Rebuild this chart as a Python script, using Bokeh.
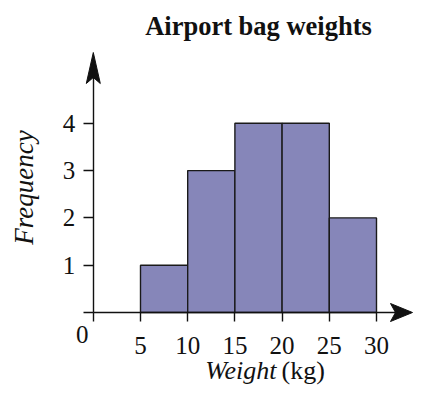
from bokeh.plotting import figure
from bokeh.models import Range1d, FixedTicker, ColumnDataSource
from bokeh.core.properties import value
from bokeh.embed import file_html
from bokeh.resources import INLINE
import math

# ---- data ----
bin_left = [5, 10, 15, 20, 25]
bin_right = [10, 15, 20, 25, 30]
frequency = [1, 3, 4, 4, 2]
x_ticks = [0, 5, 10, 15, 20, 25, 30]
y_ticks = [0, 1, 2, 3, 4]
title_text = "Airport bag weights"
y_label = "Frequency"
x_label_italic = "Weight"
x_label_unit = "(kg)"
origin_label = "0"

# ---- layout (pixels) ----
W, H = 413, 387
X0_PX, SX = 92.8, 9.44     # origin x (px), px per x unit
Y0_PX, SY = 312.0, 47.3    # origin y (px from top), px per y unit

def fx(px):
    return (px - X0_PX) / SX

def fy(py):
    return (Y0_PX - py) / SY

p = figure(width=W, height=H, output_backend="svg", toolbar_location=None,
           x_range=Range1d(fx(0), fx(W)),
           y_range=Range1d(fy(H), fy(0)),
           min_border=0, min_border_left=0, min_border_right=0,
           min_border_top=0, min_border_bottom=0)
p.title.visible = False
p.outline_line_color = None
p.grid.visible = False
p.background_fill_color = "white"
p.border_fill_color = "white"

FONT = "Liberation Serif"
INK = "#111111"

# bars
src = ColumnDataSource(dict(left=bin_left, right=bin_right, top=frequency,
                            bottom=[0] * len(frequency)))
p.quad(left="left", right="right", top="top", bottom="bottom", source=src,
       fill_color="#8686b9", line_color="#1a1a1a", line_width=1.4)

# axes
xa = p.xaxis[0]
xa.fixed_location = 0
xa.ticker = FixedTicker(ticks=x_ticks)
xa.bounds = (0, fx(397))
xa.major_label_overrides = {0: ""}
xa.major_tick_in = 0
xa.major_tick_out = 9
xa.minor_tick_line_color = None
xa.axis_line_width = 1.4
xa.major_tick_line_width = 1.4
xa.axis_line_color = INK
xa.major_tick_line_color = INK
xa.major_label_text_font = FONT
xa.major_label_text_font_size = "25px"
xa.major_label_text_color = INK
xa.major_label_standoff = 15

ya = p.yaxis[0]
ya.fixed_location = 0
ya.ticker = FixedTicker(ticks=y_ticks)
ya.bounds = (0, fy(70))
ya.major_label_overrides = {0: ""}
ya.major_tick_in = 0
ya.major_tick_out = 10
ya.minor_tick_line_color = None
ya.axis_line_width = 1.4
ya.major_tick_line_width = 1.4
ya.axis_line_color = INK
ya.major_tick_line_color = INK
ya.major_label_text_font = FONT
ya.major_label_text_font_size = "25px"
ya.major_label_text_color = INK
ya.major_label_standoff = 8
ya.major_label_orientation = "horizontal"

# arrow heads (stealth shape)
ox, oy = X0_PX, Y0_PX
yarrow_x = [fx(ox), fx(ox + 7), fx(ox), fx(ox - 7)]
yarrow_y = [fy(52), fy(83), fy(77), fy(83)]
xarrow_x = [fx(412), fx(390), fx(395), fx(390)]
xarrow_y = [fy(oy), fy(oy - 9), fy(oy), fy(oy + 9)]
p.patches(xs=[yarrow_x, xarrow_x], ys=[yarrow_y, xarrow_y],
          fill_color=INK, line_color=INK, line_width=1)

# texts
p.text(x=[fx(258)], y=[fy(25)], text=[title_text], text_font=value(FONT),
       text_font_size="26.5px", text_font_style="bold", text_align="center",
       text_baseline="middle", text_color=INK)

p.text(x=[fx(23)], y=[fy(187)], text=[y_label], text_font=value(FONT),
       text_font_size="27px", text_font_style="italic", text_align="center",
       text_baseline="middle", angle=math.pi / 2, text_color=INK)

p.text(x=[fx(276)], y=[fy(370)], text=[x_label_italic], text_font=value(FONT),
       text_font_size="26px", text_font_style="italic", text_align="right",
       text_baseline="middle", text_color=INK)
p.text(x=[fx(281)], y=[fy(370)], text=[x_label_unit], text_font=value(FONT),
       text_font_size="26px", text_font_style="normal", text_align="left",
       text_baseline="middle", text_color=INK)

p.text(x=[0], y=[0], text=[origin_label], text_font=value(FONT),
       text_font_size="25px", text_align="center", text_baseline="middle",
       x_offset=-11, y_offset=22, text_color=INK)

open("out.html", "w").write(file_html(p, INLINE))
